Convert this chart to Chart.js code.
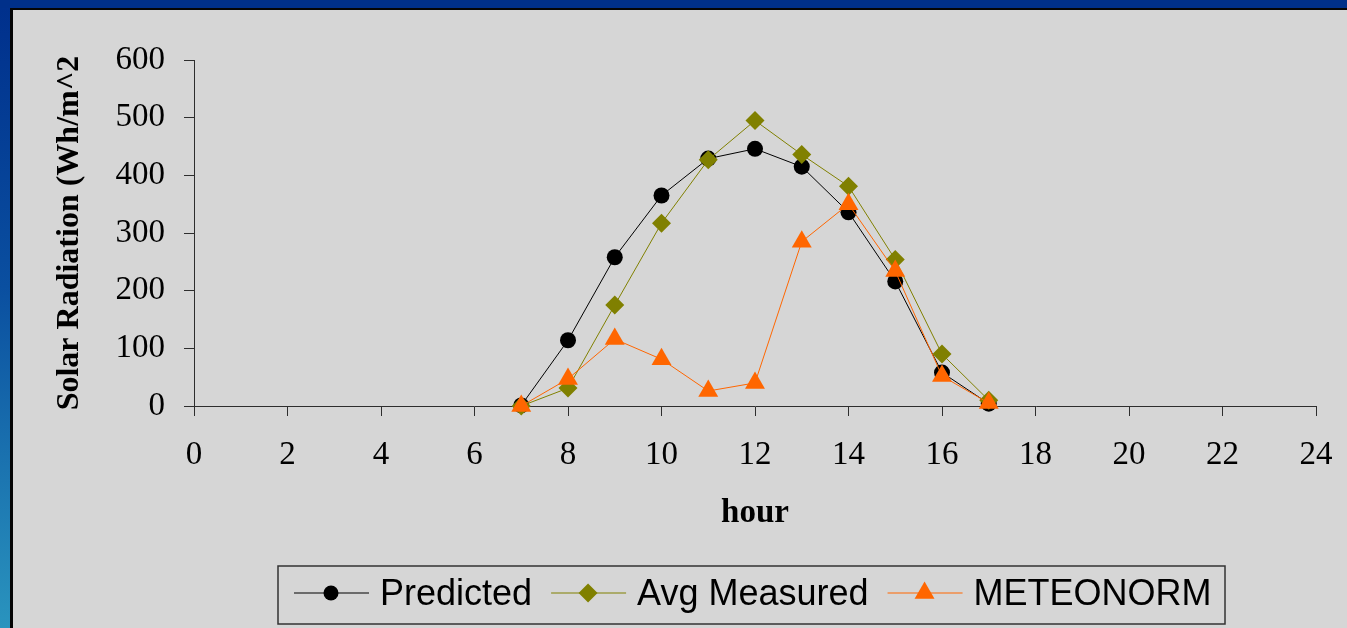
<!DOCTYPE html>
<html>
<head>
<meta charset="utf-8">
<script src="https://cdn.jsdelivr.net/npm/chart.js@4/dist/chart.umd.min.js"></script>
<style>
  html, body { margin: 0; padding: 0; }
  body { width: 1347px; height: 628px; background: #00308a; position: relative; overflow: hidden; }
  .left-strip { position: absolute; left: 0; top: 8px; width: 10px; height: 620px;
    background: linear-gradient(to bottom, #00308c 0%, #0a4fa0 45%, #2a94be 100%); }
  .panel { position: absolute; left: 10px; top: 8px; right: 0; bottom: 0;
    background: #d6d6d6; border-left: 3px solid #050505; border-top: 2px solid #050505; }
  #chart { position: absolute; left: 0; top: 0; }
</style>
</head>
<body>
<div class="left-strip"></div>
<div class="panel">
  <canvas id="chart" width="1334" height="618"></canvas>
</div>
<script>
// ── Data ──
const hours       = [7, 8, 9, 10, 11, 12, 13, 14, 15, 16, 17];
const predicted   = [1, 114, 258, 365, 429, 446, 415, 336, 216, 58, 4];
const avgMeasured = [0, 31, 175, 317, 427, 495, 436, 381, 254, 90, 10];
const meteonorm   = [0, 47, 116, 81, 26, 40, 285, 350, 234, 52, 5];
const seriesNames = ['Predicted', 'Avg Measured', 'METEONORM'];
const xTicks = [0, 2, 4, 6, 8, 10, 12, 14, 16, 18, 20, 22, 24];
const yTicks = [0, 100, 200, 300, 400, 500, 600];

const colors = {
  predicted: '#000000',
  measured: '#808000',
  meteo: '#ff6600',
  axis: '#2e2e2e',
  text: '#000000',
};

const toPoints = (ys) => hours.map((h, i) => ({ x: h, y: ys[i] }));

Chart.defaults.font.family = "'Liberation Serif', 'Times New Roman', serif";
Chart.defaults.color = colors.text;

// ── Legend drawn in a framed box under the chart ──
const boxLegend = {
  id: 'boxLegend',
  afterDraw(chart) {
    const ctx = chart.ctx;
    ctx.save();
    ctx.strokeStyle = '#333';
    ctx.lineWidth = 1.5;
    ctx.strokeRect(265, 556, 947, 58);

    ctx.font = "36px 'Liberation Sans', Arial, sans-serif";
    ctx.textBaseline = 'alphabetic';
    ctx.textAlign = 'left';
    let x = 281;
    const cy = 583;
    chart.data.datasets.forEach((ds) => {
      ctx.strokeStyle = ds.borderColor;
      ctx.lineWidth = 1.2;
      ctx.beginPath();
      ctx.moveTo(x, cy);
      ctx.lineTo(x + 75, cy);
      ctx.stroke();
      ctx.fillStyle = ds.pointBackgroundColor;
      ctx.strokeStyle = ds.pointBackgroundColor;
      Chart.helpers.drawPoint(ctx, {
        pointStyle: ds.pointStyle,
        radius: ds.legendRadius,
        rotation: 0,
        borderWidth: 0,
      }, x + 37, cy);
      ctx.fillStyle = colors.text;
      ctx.fillText(ds.label, x + 86, 595);
      x += 86 + ctx.measureText(ds.label).width + 19;
    });
    ctx.restore();
  }
};

new Chart(document.getElementById('chart'), {
  type: 'line',
  data: {
    datasets: [
      {
        label: seriesNames[0],
        data: toPoints(predicted),
        borderColor: colors.predicted,
        borderWidth: 1,
        pointStyle: 'circle',
        pointRadius: 8,
        legendRadius: 7.5,
        pointBackgroundColor: colors.predicted,
        pointBorderWidth: 0,
        order: 3,
        clip: false,
      },
      {
        label: seriesNames[1],
        data: toPoints(avgMeasured),
        borderColor: colors.measured,
        borderWidth: 1,
        pointStyle: 'rectRot',
        pointRadius: 9.5,
        legendRadius: 9.5,
        pointBackgroundColor: colors.measured,
        pointBorderWidth: 0,
        order: 2,
        clip: false,
      },
      {
        label: seriesNames[2],
        data: toPoints(meteonorm),
        borderColor: colors.meteo,
        borderWidth: 1,
        pointStyle: 'triangle',
        pointRadius: 11.5,
        legendRadius: 11.5,
        pointBackgroundColor: colors.meteo,
        pointBorderWidth: 0,
        order: 1,
        clip: false,
      },
    ]
  },
  options: {
    responsive: false,
    animation: false,
    layout: { padding: { top: 50, right: 31, left: 0, bottom: 0 } },
    plugins: {
      legend: { display: false },
      tooltip: { enabled: false },
    },
    scales: {
      x: {
        type: 'linear',
        min: 0,
        max: 24,
        afterFit: (scale) => {
          scale.height = 222;
          scale.paddingLeft = 0;
          scale.paddingRight = 0;
        },
        afterBuildTicks: (scale) => { scale.ticks = xTicks.map((v) => ({ value: v })); },
        grid: { drawOnChartArea: false, drawTicks: true, tickLength: 10, color: colors.axis },
        border: { color: colors.axis, width: 1 },
        ticks: { font: { size: 33 }, padding: 20, color: colors.text, maxRotation: 0 },
        title: {
          display: true,
          text: 'hour',
          font: { size: 33, weight: 'bold' },
          color: colors.text,
          padding: { top: 0, bottom: 95 },
        },
      },
      y: {
        min: 0,
        max: 600,
        afterFit: (scale) => { scale.width = 181; },
        afterBuildTicks: (scale) => { scale.ticks = yTicks.map((v) => ({ value: v })); },
        grid: { drawOnChartArea: false, drawTicks: true, tickLength: 10, color: colors.axis },
        border: { color: colors.axis, width: 1 },
        ticks: { font: { size: 33 }, padding: 19, color: colors.text },
        title: {
          display: true,
          text: 'Solar Radiation (Wh/m^2',
          font: { size: 32, weight: 'bold' },
          color: colors.text,
          padding: { top: 38, bottom: 0 },
        },
      },
    },
  },
  plugins: [boxLegend],
});
</script>
</body>
</html>
